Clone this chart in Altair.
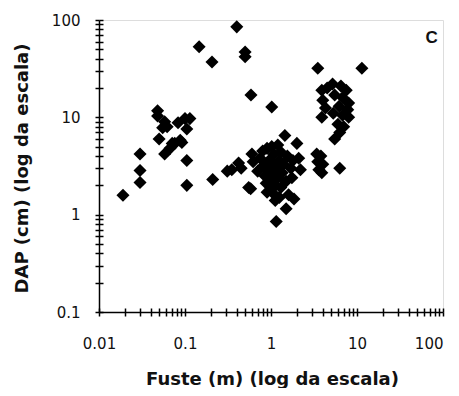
import altair as alt
import pandas as pd

# Fuste (m) and DAP (cm)
fuste = [
    # left group
    0.019, 0.030, 0.030, 0.030, 0.048, 0.048, 0.050, 0.055, 0.058, 0.058, 0.062, 0.067,
    0.071, 0.076, 0.083, 0.088, 0.092, 0.100, 0.105, 0.105, 0.105, 0.114,
    # upper scattered
    0.146, 0.206, 0.40, 0.50, 0.50, 0.585, 1.02, 3.5, 11.4,
    # main cluster
    0.21, 0.31, 0.35, 0.42, 0.45, 0.55, 0.60, 0.62, 0.70, 0.75, 0.80, 0.82, 0.85, 0.88,
    0.90, 0.95, 0.95, 1.00, 1.00, 1.02, 1.05, 1.05, 1.08, 1.10, 1.10, 1.15, 1.15, 1.20,
    1.20, 1.25, 1.25, 1.30, 1.30, 1.35, 1.40, 1.45, 1.50, 1.50, 1.55, 1.60, 1.70, 1.75,
    1.80, 1.85, 2.00, 2.10, 2.20, 0.58, 1.12, 0.90,
    # lower right group
    3.4, 3.8, 3.5, 4.0, 3.6, 3.9, 6.3,
    # upper right group
    3.9, 4.5, 5.2, 6.5, 7.5, 4.0, 5.5, 6.8, 8.0, 4.3, 6.2, 7.8, 3.9, 5.3, 6.8, 8.0,
    6.0, 7.0, 6.3, 5.5,
]
dap = [
    1.58, 2.14, 2.84, 4.2, 11.7, 10.3, 6.0, 7.8, 4.2, 9.0, 8.0, 4.8,
    5.4, 5.4, 8.8, 5.8, 5.5, 9.7, 7.6, 3.6, 2.0, 9.7,
    53, 37, 85, 47, 42, 17, 12.8, 32, 32,
    2.3, 2.8, 2.9, 3.4, 3.0, 1.9, 4.2, 3.5, 2.8, 3.8, 4.5, 3.2, 2.5, 2.1,
    4.8, 3.6, 2.8, 2.2, 1.8, 5.0, 3.2, 2.6, 4.2, 1.6, 2.0, 3.0, 0.85, 2.4,
    5.2, 1.5, 3.6, 1.9, 4.4, 2.7, 3.3, 6.5, 2.2, 1.15, 4.0, 1.6, 3.0, 2.4,
    3.6, 1.45, 5.4, 3.8, 2.9, 1.85, 1.4, 1.7,
    4.2, 4.0, 3.5, 3.3, 2.9, 2.7, 3.0,
    19, 20, 22, 21, 19, 15, 17, 16, 14, 12.5, 13, 12, 10, 11, 10.5, 10,
    8.5, 8.0, 7.0, 6.0,
]

x_ticks = [m * 10 ** e for e in range(-2, 2) for m in range(1, 10)] + [100]
y_ticks = [m * 10 ** e for e in range(-1, 2) for m in range(1, 10)] + [100]

df = pd.DataFrame({"fuste": fuste, "dap": dap})

label_expr = "abs(log(datum.value)/LN10 - round(log(datum.value)/LN10)) < 0.001 ? format(datum.value, '~g') : ''"

W, H = 344, 292
FONT = "DejaVu Sans"

xscale = alt.Scale(type="log", domain=[0.01, 100], nice=False)
yscale = alt.Scale(type="log", domain=[0.1, 100], nice=False)

points = alt.Chart(df).mark_point(
    shape="diamond", filled=True, color="black", opacity=1, size=170
).encode(
    x=alt.X("fuste:Q", scale=xscale,
            axis=alt.Axis(values=x_ticks, labelExpr=label_expr, grid=False,
                          tickSize=4, labelPadding=20, labelFontSize=15, labelFont=FONT,
                          labelAlign=alt.condition("datum.value >= 99", alt.value("right"), alt.value("center")),
                          labelColor="#111", domainColor="black", tickColor="black",
                          domainWidth=1.5, tickWidth=1.5, labelFlush=False,
                          title="Fuste (m)  (log da escala)", titleFont=FONT,
                          titleFontSize=18, titleFontWeight="bold", titleColor="#111",
                          titleBaseline="middle", titleY=67, titleX=W / 2 + 1)),
    y=alt.Y("dap:Q", scale=yscale,
            axis=alt.Axis(values=y_ticks, labelExpr=label_expr, grid=False,
                          tickSize=4, labelPadding=15, labelFontSize=15, labelFont=FONT,
                          labelColor="#111", domainColor="black", tickColor="black",
                          domainWidth=1.5, tickWidth=1.5, labelFlush=False,
                          title="DAP (cm) (log da escala)", titleFont=FONT,
                          titleFontSize=18, titleFontWeight="bold", titleColor="#111",
                          titleBaseline="middle", titleX=-77, titleY=148, titleAngle=-90)),
)

inner = alt.Chart(df).mark_point(opacity=0, size=1).encode(
    x=alt.X("fuste:Q", scale=xscale,
            axis=alt.Axis(orient="top", offset=-H, values=x_ticks, labels=False, domain=False,
                          grid=False, tickSize=4, tickWidth=1.5, tickColor="black", title=None)),
    y=alt.Y("dap:Q", scale=yscale,
            axis=alt.Axis(orient="right", offset=-W, values=y_ticks, labels=False, domain=False,
                          grid=False, tickSize=4, tickWidth=1.5, tickColor="black", title=None)),
)

label_df = pd.DataFrame({"fuste": [74.0], "dap": [65.0], "txt": ["C"]})
letter = alt.Chart(label_df).mark_text(
    font="Liberation Sans", fontSize=17, fontWeight="bold", color="#111"
).encode(
    x=alt.X("fuste:Q", scale=xscale, axis=None),
    y=alt.Y("dap:Q", scale=yscale, axis=None),
    text="txt:N",
)

chart = alt.layer(points, inner, letter).resolve_axis(
    x="independent", y="independent"
).properties(
    width=W, height=H,
    autosize=alt.AutoSizeParams(type="none"),
    padding={"left": 91, "top": 12, "right": 8, "bottom": 76},
).configure_view(stroke=None).configure(background="white")

chart.save("out.html", embed_options={"renderer": "svg", "actions": False})
